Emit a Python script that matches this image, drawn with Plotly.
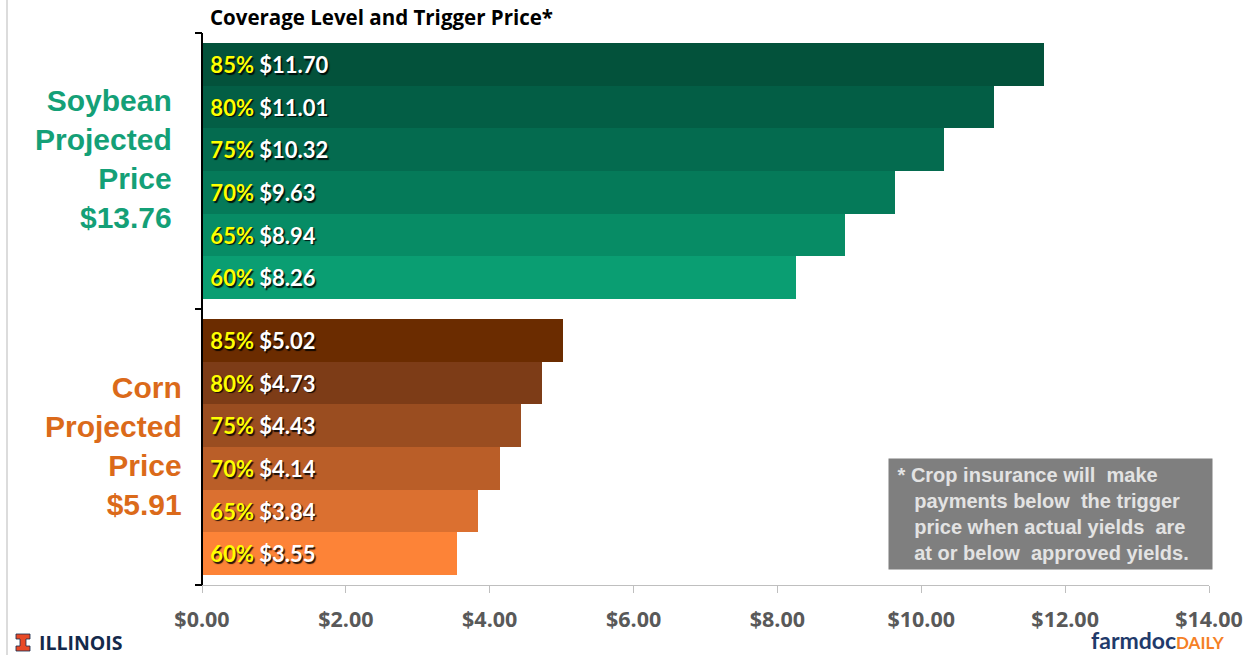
import plotly.graph_objects as go

coverage = ["60%", "65%", "70%", "75%", "80%", "85%"]
soy_trigger = [8.26, 8.94, 9.63, 10.32, 11.01, 11.70]
corn_trigger = [3.55, 3.84, 4.14, 4.43, 4.73, 5.02]
soy_colors = ["#0A9E72", "#078C65", "#057A59", "#046B4F", "#035E45", "#03523B"]
corn_colors = ["#FD8337", "#DB7030", "#BA5E28", "#9A4D20", "#7D3C17", "#6B2C00"]
x_ticks = [0, 2, 4, 6, 8, 10, 12, 14]

def labels(vals):
    return [f"&nbsp;<span style='color:#FFFF00'>{c}</span> ${v:.2f}" for c, v in zip(coverage, vals)]

tf = dict(family="Lato", size=22, color="white", weight="bold",
          shadow="1.5px 1.5px 1px rgba(0,0,0,0.85)")

fig = go.Figure()
fig.add_trace(go.Bar(y=coverage, x=soy_trigger, orientation="h", xaxis="x", yaxis="y",
                     marker=dict(color=soy_colors, line=dict(width=0)),
                     text=labels(soy_trigger), textposition="inside", insidetextanchor="start",
                     textfont=tf, insidetextfont=tf, constraintext="none", showlegend=False))
fig.add_trace(go.Bar(y=coverage, x=corn_trigger, orientation="h", xaxis="x", yaxis="y2",
                     marker=dict(color=corn_colors, line=dict(width=0)),
                     text=labels(corn_trigger), textposition="inside", insidetextanchor="start",
                     textfont=tf, insidetextfont=tf, constraintext="none", showlegend=False))

pad = 0.23
fig.update_layout(
    width=1251, height=655,
    margin=dict(l=202, r=42, t=33, b=70, autoexpand=False),
    paper_bgcolor="white", plot_bgcolor="white",
    bargap=0,
    xaxis=dict(domain=[0, 1], anchor="y2", range=[0, 14], tickvals=x_ticks,
               tickformat="$.2f", showgrid=False, zeroline=False, automargin=False,
               showline=True, linecolor="#BFBFBF", linewidth=1,
               ticks="outside", ticklen=7, tickcolor="#BFBFBF",
               ticklabelstandoff=8,
               tickfont=dict(family="Open Sans", size=21.5, color="#595959", weight="bold")),
    yaxis=dict(domain=[0.5, 1], anchor="x", type="category", automargin=False,
               range=[-0.5 - pad, 5.5 + pad], showticklabels=False,
               showgrid=False, zeroline=False, showline=False),
    yaxis2=dict(domain=[0, 0.5], anchor="x", type="category", automargin=False,
                range=[-0.5 - pad, 5.5 + pad], showticklabels=False,
                showgrid=False, zeroline=False, showline=False),
)

def px(xp):
    return (xp - 202) / 1007

def py(yp):
    return (585 - yp) / 552

shapes = [
    dict(type="line", xref="paper", yref="paper", x0=0, x1=0, y0=0, y1=1,
         line=dict(color="black", width=2)),
]
for yy in [0, 0.5, 1]:
    shapes.append(dict(type="line", xref="paper", yref="paper", x0=-7 / 1007, x1=0,
                       y0=yy, y1=yy, line=dict(color="black", width=2)))
shapes.append(dict(type="line", xref="paper", yref="paper", x0=px(7), x1=px(7),
                   y0=-0.2, y1=1.1, line=dict(color="#D0D0D0", width=1.5)))
# Illinois block "I" logo
pts = [(16, 634), (30, 634), (30, 639), (26, 639), (26, 646), (30, 646), (30, 651),
       (16, 651), (16, 646), (20, 646), (20, 639), (16, 639)]
path = "M " + " L ".join(f"{px(a):.5f},{py(b):.5f}" for a, b in pts) + " Z"
shapes.append(dict(type="path", xref="paper", yref="paper", path=path,
                   fillcolor="#E84A27", line=dict(color="#13294B", width=0.8)))
fig.update_layout(shapes=shapes)

nb = "&nbsp;"
ann = [
    dict(text="<b>Coverage Level and Trigger Price*</b>", xref="paper", yref="paper",
         x=6 / 1007, y=1, yshift=16, xanchor="left", yanchor="middle", showarrow=False,
         font=dict(family="Open Sans", size=20.5, color="black")),
    dict(text="<b>Soybean<br>Projected<br>Price<br>$13.76</b>", xref="paper", yref="paper",
         x=0, xshift=-28, y=py(159), xanchor="right", yanchor="middle",
         align="right", showarrow=False,
         font=dict(family="Liberation Sans", size=30, color="#14A077")),
    dict(text="<b>Corn<br>Projected<br>Price<br>$5.91</b>", xref="paper", yref="paper",
         x=0, xshift=-18, y=py(446), xanchor="right", yanchor="middle",
         align="right", showarrow=False,
         font=dict(family="Liberation Sans", size=30, color="#DB6A1A")),
    dict(text=f"<b>{nb}* Crop insurance will  make<br>{nb*4}payments below  the trigger<br>"
              f"{nb*4}price when actual yields  are<br>{nb*4}at or below  approved yields.</b>",
         xref="paper", yref="paper", x=px(1050.5), y=py(514),
         xanchor="center", yanchor="middle", align="left", showarrow=False,
         width=317, height=104, borderpad=3, bgcolor="#7F7F7F",
         font=dict(family="Liberation Sans", size=20, color="#E3E3E3")),
    dict(text="<b>ILLINOIS</b>", xref="paper", yref="paper", x=px(38), y=py(642),
         xanchor="left", yanchor="middle", showarrow=False, borderpad=0,
         font=dict(family="Open Sans", size=19.5, color="#13294B")),
    dict(text="<b>farmdoc</b><b style='font-size:17px;color:#F58025'>DAILY</b>",
         xref="paper", yref="paper", x=px(1226), y=py(640),
         xanchor="right", yanchor="middle", showarrow=False, borderpad=0,
         font=dict(family="Lato", size=23, color="#1F3A6B")),
]
fig.update_layout(annotations=ann)

fig.write_html("out.html", config={"displayModeBar": False},
               post_script="document.body.style.margin='0';")
